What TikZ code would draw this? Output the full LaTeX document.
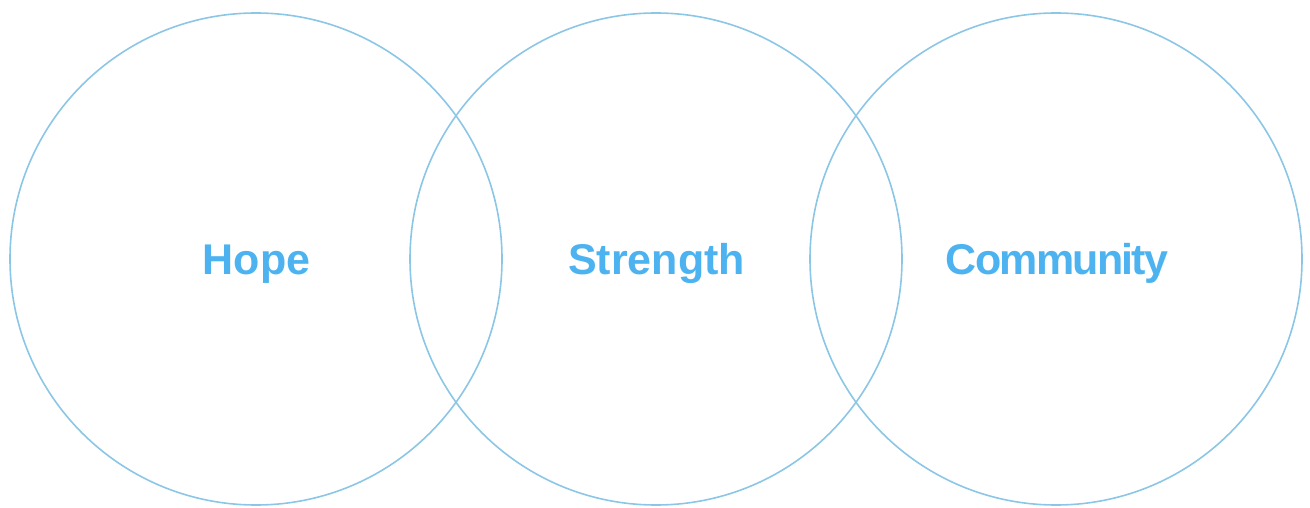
\documentclass[tikz,border=0pt]{standalone}
\usepackage{fontspec}
\setmainfont{Liberation Sans}
\definecolor{ringblue}{HTML}{8CC6E6}
\definecolor{textblue}{HTML}{4DB3F0}
\begin{document}
\begin{tikzpicture}[x=1pt,y=-1pt,
  ring/.style={circle,draw=ringblue,line width=1.6pt,minimum size=492pt,inner sep=0pt},
  lbl/.style={text=textblue,font=\fontsize{43}{48}\selectfont\bfseries,inner sep=0pt,anchor=base}]
\useasboundingbox (0,0) rectangle (1310,508);
\node[ring] (c1) at (256,259) {};
\node[ring] (c2) at (656,259) {};
\node[ring] (c3) at (1056,259) {};
\node[lbl] (t1) at (256.5,274) {Hope};
\node[lbl] (t2) at (656.5,274) {Strength};
\node[lbl] (t3) at (1057,274) {\addfontfeature{LetterSpace=-4}Community};
\end{tikzpicture}
\end{document}
